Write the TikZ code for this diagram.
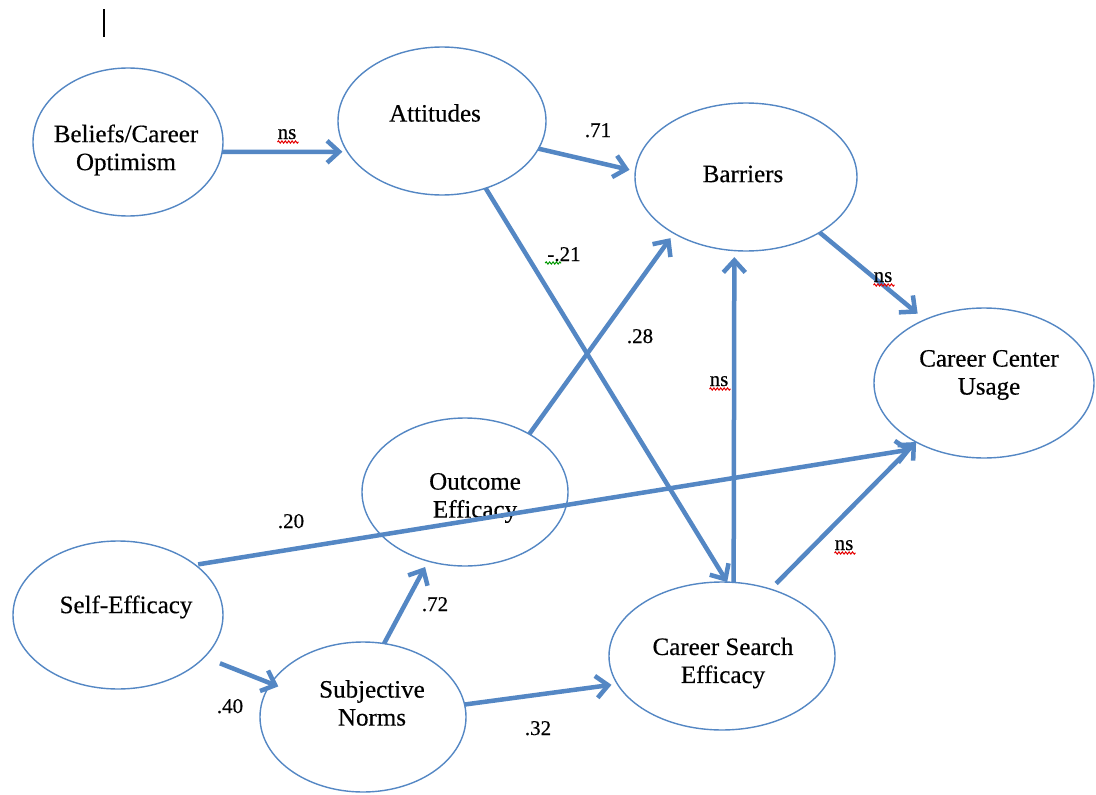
\documentclass[tikz,border=0pt]{standalone}
\usepackage{fontspec}
\setmainfont{Liberation Serif}
\newfontfamily\heavyserif{Liberation Serif}[FakeBold=0.4]
\usetikzlibrary{arrows.meta,decorations.pathmorphing,shapes.geometric}
\definecolor{sem}{HTML}{5487C4}
\begin{document}
\begin{tikzpicture}[x=1pt,y=-1pt,
  ell/.style={ellipse, draw=sem, fill=white, line width=1.4pt, outer sep=0pt, inner sep=0pt},
  txt/.style={font=\heavyserif\fontsize{25}{28}\selectfont, align=center, inner sep=0pt},
  lab/.style={font=\heavyserif\fontsize{21}{24}\selectfont, inner sep=0pt, anchor=base},
  arr/.style={draw=sem, line width=4.5pt, -{Straight Barb[length=12pt,width=22pt]}},
  wavy/.style={draw=red!90!black, line width=1pt, decorate, decoration={snake, amplitude=1.1pt, segment length=3.4pt}},
  gwavy/.style={draw=green!60!black, line width=1pt, decorate, decoration={snake, amplitude=1.1pt, segment length=3.4pt}},
]
\useasboundingbox (0,0) rectangle (1096,795);
\fill[white] (0,0) rectangle (1096,795);

% cursor mark
\draw[line width=1.8pt] (104,9) -- (104,37);

% ellipses
\node[ell, minimum width=190pt, minimum height=148pt] (bel) at (128,142) {};
\node[ell, minimum width=208pt, minimum height=148pt] (att) at (442,121) {};
\node[ell, minimum width=222pt, minimum height=148pt] (bar) at (746,177) {};
\node[ell, minimum width=220pt, minimum height=150pt] (ccu) at (984,383) {};
\node[ell, minimum width=206pt, minimum height=148pt] (oe)  at (465,492) {};
\node[ell, minimum width=210pt, minimum height=148pt] (se)  at (118,615) {};
\node[ell, minimum width=206pt, minimum height=150pt] (sn)  at (363,717) {};
\node[ell, minimum width=226pt, minimum height=148pt] (cse) at (722,656) {};

% node texts
\node[txt] (tbel) at (126,150) {Beliefs/Career\\Optimism};
\node[txt] (tatt) at (435,113) {Attitudes};
\node[txt] (tbar) at (743,174) {Barriers};
\node[txt] (tccu) at (989,375) {Career Center\\Usage};
\node[txt] (toe)  at (475,498) {Outcome\\Efficacy};
\node[txt] (tse)  at (126,607) {Self-Efficacy};
\node[txt] (tsn)  at (372,703) {Subjective\\Norms};
\node[txt] (tcse) at (723,663) {Career Search\\Efficacy};

% arrows
\draw[arr, shorten >=5pt] (bel.-6.6) -- (att.-162.3);
\draw[arr, shorten >=6pt] (att.-16.75) -- (bar.177.6);
\draw[arr] (att.-57.6) -- (cse.86.2);
\draw[arr, shorten >=6pt] (oe.42.1) -- (bar.-142.1);
\draw[arr, shorten >=6.5pt] (cse.81.5) -- (bar.-99.2);
\draw[arr, shorten >=9.5pt] (bar.-37.9) -- (ccu.133.3);
\draw[arr, shorten <=3pt, shorten >=15pt] (se.33.2) -- (ccu.-132.2);
\draw[arr, shorten <=16.8pt, shorten >=-8pt] (se.-26.3) -- (sn.160.6);
\draw[arr, shorten >=6.7pt] (sn.74.5) -- (oe.-118.1);
\draw[arr, shorten >=6pt] (sn.7.2) -- (cse.-165.8);
\draw[arr, shorten <=8pt] (cse.54.9) -- (ccu.-139.1);

% labels
\node[lab] (ns1) at (287,139) {ns};
\node[lab] (l71) at (598,137) {.71};
\node[lab] (l21) at (564,261) {-.21};
\node[lab] (l28) at (640,343) {.28};
\node[lab] (nsv) at (719,386) {ns};
\node[lab] (nsb) at (883,282) {ns};
\node[lab] (l20) at (291,528) {.20};
\node[lab] (l72) at (435,611) {.72};
\node[lab] (l40) at (230,713) {.40};
\node[lab] (l32) at (538,735) {.32};
\node[lab] (nsc) at (844,550) {ns};

\foreach \n in {ns1,nsv,nsb,nsc}{
  \draw[wavy] ([yshift=-3pt]\n.base west) -- ([xshift=2pt,yshift=-3pt]\n.base east);
}
\draw[gwavy] ([xshift=-2pt,yshift=-2pt]l21.base west) -- ++(16,0);
\end{tikzpicture}
\end{document}
